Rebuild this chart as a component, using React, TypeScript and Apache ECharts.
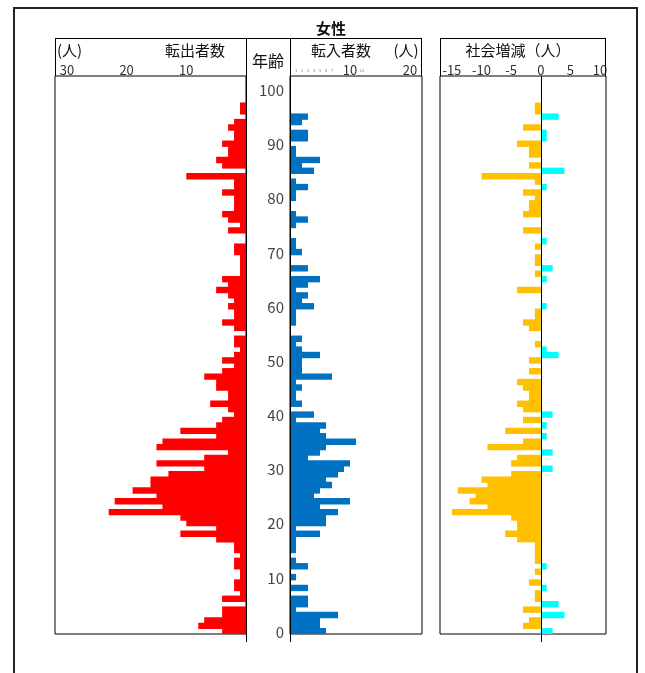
import React, { useEffect, useRef } from 'react';
import * as echarts from 'echarts';

// Age categories (0..102; the axis band runs a little past 100)
const ages: string[] = Array.from({ length: 103 }, (_, i) => String(i));
const ageTickLabels = ['0', '10', '20', '30', '40', '50', '60', '70', '80', '90', '100'];

// 転出者数 (out-migrants), ages 0..100
const outValues = [
  4, 8, 7, 4, 4, 0, 4, 1, 2, 2,
  1, 1, 2, 2, 1, 2, 2, 5, 11, 5,
  10, 11, 23, 14, 22, 15, 19, 16, 16, 13,
  7, 15, 7, 3, 15, 14, 5, 11, 5, 4,
  2, 3, 6, 3, 3, 5, 5, 7, 4, 2,
  4, 2, 1, 2, 2, 0, 2, 4, 2, 2,
  3, 2, 3, 5, 3, 4, 1, 1, 1, 1,
  2, 2, 0, 0, 3, 1, 3, 4, 2, 2,
  2, 4, 2, 2, 10, 0, 4, 5, 3, 3,
  4, 2, 2, 3, 2, 0, 1, 1, 0, 0,
  0,
];

// 転入者数 (in-migrants), ages 0..100
const inValues = [
  6, 5, 5, 8, 1, 3, 3, 0, 3, 0,
  1, 0, 3, 1, 0, 1, 1, 1, 5, 1,
  6, 6, 8, 5, 10, 4, 5, 7, 6, 8,
  9, 10, 3, 5, 6, 11, 6, 5, 6, 1,
  4, 0, 2, 1, 1, 2, 1, 7, 2, 2,
  2, 5, 2, 1, 2, 0, 0, 1, 1, 1,
  4, 2, 3, 1, 3, 5, 0, 3, 0, 0,
  2, 1, 1, 0, 0, 1, 3, 1, 0, 0,
  1, 1, 3, 1, 0, 4, 2, 5, 1, 1,
  0, 3, 3, 0, 2, 3, 0, 0, 0, 0,
  0,
];

// 社会増減 (net migration), ages 0..100
const netValues = [
  2, -3, -2, 4, -3, 3, -1, -1, 1, -2,
  0, -1, 1, -1, -1, -1, -1, -4, -6, -4,
  -4, -5, -15, -9, -12, -11, -14, -9, -10, -5,
  2, -5, -4, 2, -9, -3, 1, -6, 1, -3,
  2, -3, -4, -2, -2, -3, -4, 0, -2, 0,
  -2, 3, 1, -1, 0, 0, -2, -3, -1, -1,
  1, 0, 0, -4, 0, 1, -1, 2, -1, -1,
  0, -1, 1, 0, -3, 0, 0, -3, -2, -2,
  -1, -3, 1, -1, -10, 4, -2, 0, -2, -2,
  -4, 1, 1, -3, 0, 3, -1, -1, 0, 0,
  0,
];

const outTickLabels = ['30', '20', '10'];
const inTickLabels = ['10', '20'];
const inTinyLabels = ['1', '2', '3', '4', '5', '6', '7', '12'];
const netTickLabels = ['-15', '-10', '-5', '0', '5', '10'];

const FONT = '"Noto Sans CJK JP", "Noto Sans", sans-serif';
const RED = '#FF0000';
const BLUE = '#0070C0';
const ORANGE = '#FFC000';
const CYAN = '#00FFFF';

export default function App() {
  const ref = useRef<HTMLDivElement>(null);

  useEffect(() => {
    if (!ref.current) return;
    const chart = echarts.init(ref.current, undefined, { renderer: 'svg' });

    const gridTop = 76;
    const gridH = 558;
    const hideAxis = { show: false };
    const tickLabel = { fontSize: 13, lineHeight: 11, color: '#333', margin: 1, fontFamily: FONT };
    const BAR_W = 6.4;

    const option: any = {
      animation: false,
      textStyle: { fontFamily: FONT },
      grid: [
        { left: 55, top: gridTop, width: 191, height: gridH, show: true, borderColor: '#000', borderWidth: 1, backgroundColor: 'transparent' },
        { left: 290, top: gridTop, width: 132, height: gridH, show: true, borderColor: '#000', borderWidth: 1, backgroundColor: 'transparent' },
        { left: 440, top: gridTop, width: 166, height: gridH, show: true, borderColor: '#000', borderWidth: 1, backgroundColor: 'transparent' },
      ],
      xAxis: [
        {
          gridIndex: 0, type: 'value', inverse: true, min: 0, max: 32, interval: 10, position: 'top',
          axisLine: hideAxis, axisTick: hideAxis, splitLine: hideAxis,
          axisLabel: {
            ...tickLabel,
            formatter: (v: number) => (outTickLabels.includes(String(v)) ? String(v) : ''),
          },
        },
        {
          gridIndex: 1, type: 'value', min: 0, max: 22, interval: 1, position: 'top',
          axisLine: hideAxis, axisTick: hideAxis, splitLine: hideAxis,
          axisLabel: {
            ...tickLabel,
            formatter: (v: number) => {
              const s = String(v);
              if (inTickLabels.includes(s)) return s;
              if (inTinyLabels.includes(s)) return '{s|' + s + '}';
              return '';
            },
            rich: { s: { fontSize: 4, color: '#777', lineHeight: 11 } },
          },
        },
        {
          gridIndex: 2, type: 'value', min: -17, max: 11, interval: 1, position: 'top',
          axisLine: hideAxis, axisTick: hideAxis, splitLine: hideAxis,
          axisLabel: {
            ...tickLabel,
            formatter: (v: number) => (netTickLabels.includes(String(v)) ? String(v) : ''),
          },
        },
      ],
      yAxis: [
        { gridIndex: 0, type: 'category', data: ages, axisLine: hideAxis, axisTick: hideAxis, axisLabel: hideAxis, splitLine: hideAxis },
        {
          gridIndex: 1, type: 'category', data: ages, position: 'left',
          axisLine: hideAxis, axisTick: hideAxis, splitLine: hideAxis,
          axisLabel: {
            interval: 0, fontSize: 15, color: '#444', margin: 6, fontFamily: FONT,
            formatter: (v: string) => (ageTickLabels.includes(v) ? v : ''),
          },
        },
        { gridIndex: 2, type: 'category', data: ages, axisLine: hideAxis, axisTick: hideAxis, axisLabel: hideAxis, splitLine: hideAxis },
      ],
      series: [
        {
          name: '転出者数', type: 'bar', xAxisIndex: 0, yAxisIndex: 0, data: outValues,
          barWidth: BAR_W, itemStyle: { color: RED },
        },
        {
          name: '転入者数', type: 'bar', xAxisIndex: 1, yAxisIndex: 1, data: inValues,
          barWidth: BAR_W, itemStyle: { color: BLUE },
        },
        {
          name: '社会増減', type: 'bar', xAxisIndex: 2, yAxisIndex: 2,
          data: netValues.map((v) => ({ value: v, itemStyle: { color: v < 0 ? ORANGE : CYAN } })),
          barWidth: BAR_W,
        },
      ],
    };
    chart.setOption(option);

    const zeroX = Math.round(chart.convertToPixel({ xAxisIndex: 2 }, 0) as number) + 0.5;
    const line = (x1: number, y1: number, x2: number, y2: number, w = 1) => ({
      type: 'line', z: 100, silent: true,
      shape: { x1, y1, x2, y2 },
      style: { stroke: '#000', lineWidth: w },
    });
    const txt = (text: string, x: number, y: number, align: string, size = 15, weight = 'normal') => ({
      type: 'text', z: 100, silent: true, x, y,
      style: { text, align, verticalAlign: 'middle', fontSize: size, fontWeight: weight, fontFamily: FONT, fill: '#111', lineHeight: size },
    });

    chart.setOption({
      graphic: {
        elements: [
          { type: 'rect', z: 100, silent: true, shape: { x: 14, y: 8, width: 623, height: 700 }, style: { fill: 'none', stroke: '#222', lineWidth: 2 } },
          txt('女性', 331, 27, 'center', 15, 'bold'),
          // left + age + in header frame
          line(55, 38.5, 422, 38.5),
          line(55.5, 38, 55.5, 76),
          line(421.5, 38, 421.5, 76),
          line(246.5, 38, 246.5, 642),
          line(290.5, 38, 290.5, 642),
          // net header frame
          line(440, 38.5, 606, 38.5),
          line(440.5, 38, 440.5, 76),
          line(605.5, 38, 605.5, 76),
          line(zeroX, 76, zeroX, 642),
          txt('(人)', 57, 49, 'left'),
          txt('転出者数', 195, 49, 'center'),
          txt('年齢', 268, 60, 'center', 16),
          txt('転入者数', 341, 49, 'center'),
          txt('(人)', 406, 49, 'center'),
          txt('社会増減（人）', 518, 49, 'center'),
        ],
      },
    });

    return () => chart.dispose();
  }, []);

  return <div ref={ref} style={{ position: 'fixed', left: 0, top: 0, width: 645, height: 673 }} />;
}
